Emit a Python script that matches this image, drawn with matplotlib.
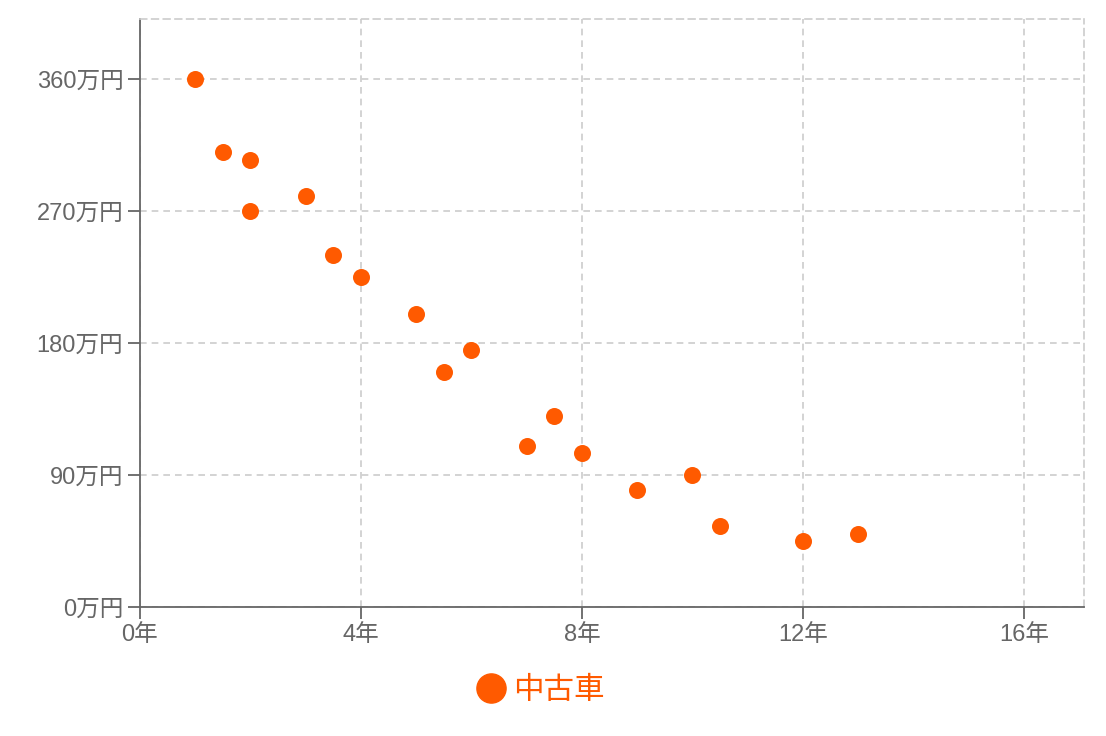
import matplotlib
matplotlib.use('Agg')
import matplotlib.pyplot as plt
from matplotlib.lines import Line2D

plt.rcParams['font.family'] = ['Liberation Sans', 'Noto Sans CJK JP', 'DejaVu Sans']

# 経過年数 (年) と価格 (万円)
years = [1, 1.5, 2, 2, 3, 3.5, 4, 5, 5.5, 6, 7, 7.5, 8, 9, 10, 10.5, 12, 13]
prices = [360, 310, 305, 270, 280, 240, 225, 200, 160, 175, 110, 130, 105, 80, 90, 55, 45, 50]
x_ticks = [0, 4, 8, 12, 16]
y_ticks = [0, 90, 180, 270, 360]
series_name = '中古車'

orange = '#ff5a00'
axis_gray = '#666666'
grid_gray = '#cccccc'

fig = plt.figure(figsize=(11.06, 7.36), dpi=100)
ax = fig.add_axes([140 / 1106, 1 - 607 / 736, (1084 - 140) / 1106, (607 - 19) / 736])

ax.scatter(years, prices, s=150, color=orange, linewidths=0, zorder=3)

ax.set_xlim(0, 17.09)
ax.set_ylim(0, 401)
ax.set_xticks(x_ticks)
ax.set_xticklabels([f'{v}年' for v in x_ticks])
ax.set_yticks(y_ticks)
ax.set_yticklabels([f'{v}万円' for v in y_ticks])

ax.grid(True, color=grid_gray, linestyle=(0, (4, 3)), linewidth=1.2, zorder=0)
for side in ['left', 'bottom']:
    ax.spines[side].set_color(axis_gray)
    ax.spines[side].set_linewidth(1.3)
for side in ['top', 'right']:
    ax.spines[side].set_color(grid_gray)
    ax.spines[side].set_linestyle((0, (4, 3)))
    ax.spines[side].set_linewidth(1.2)

ax.tick_params(axis='both', direction='out', length=8.5, width=1.3, color=axis_gray,
               labelcolor=axis_gray, labelsize=17)
ax.tick_params(axis='y', pad=3.5)
ax.tick_params(axis='x', pad=4)

handle = Line2D([], [], linestyle='none', marker='o', markersize=21, color=orange)
leg = fig.legend([handle], [series_name], loc='center', bbox_to_anchor=(540 / 1106, 1 - 691 / 736),
                 frameon=False, fontsize=22, handletextpad=0.2, handlelength=1.0)
for t in leg.get_texts():
    t.set_color(orange)

fig.savefig('out.png', dpi=100)
